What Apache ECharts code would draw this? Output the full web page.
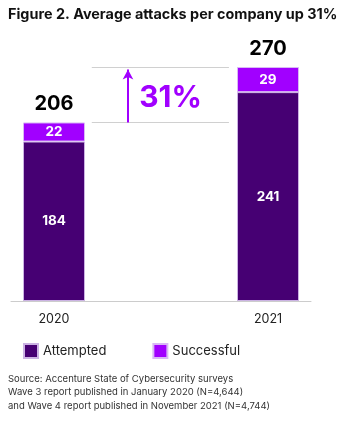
<!DOCTYPE html>
<html><head><meta charset="utf-8">
<script src="https://cdn.jsdelivr.net/npm/echarts@6/dist/echarts.min.js"></script>
<style>html,body{margin:0;padding:0;background:#fff}#c{width:362px;height:421px}</style>
</head><body><div id="c"></div>
<script>
const categories = ['2020', '2021'];
const attempted = [184, 241];
const successful = [22, 29];
const growthLabel = '31%';
const title = 'Figure 2. Average attacks per company up 31%';
const sourceLines = [
  'Source: Accenture State of Cybersecurity surveys',
  'Wave 3 report published in January 2020 (N=4,644)',
  'and Wave 4 report published in November 2021 (N=4,744)'
];

const totals = attempted.map((v, i) => v + successful[i]);
const FONT = 'Inter, "Noto Sans", sans-serif';
const C_ATT = '#460073', C_SUC = '#a100ff';
const lo = Math.min(...totals), hi = Math.max(...totals);

const chart = echarts.init(document.getElementById('c'), null, {renderer: 'canvas'});
chart.setOption({
  animation: false,
  textStyle: {fontFamily: FONT},
  title: [{
    text: title, left: 8, top: 8, padding: 0,
    textStyle: {fontFamily: FONT, fontSize: 14.4, fontWeight: 'bold', color: '#111'}
  }, {
    text: sourceLines.join('\n'), left: 8, top: 372, padding: 0,
    textStyle: {fontFamily: FONT, fontSize: 9.5, fontWeight: 'normal', color: '#333', lineHeight: 13.5}
  }],
  legend: {
    left: 23, top: 343, padding: 0, itemWidth: 14, itemHeight: 14, itemGap: 46,
    icon: 'rect',
    data: ['Attempted', 'Successful'],
    textStyle: {fontFamily: FONT, fontSize: 13, color: '#222'}
  },
  grid: [
    {left: 54, right: 94, top: 67, bottom: 120},
    {left: 11, right: 51, top: 67, bottom: 120}
  ],
  xAxis: [{
    type: 'category', gridIndex: 0, data: categories, boundaryGap: false,
    axisLine: {show: false}, axisTick: {show: false},
    axisLabel: {margin: 12, fontSize: 12.5, color: '#222', fontFamily: FONT}
  }, {
    type: 'value', gridIndex: 1, min: -0.2, max: 1.2,
    splitLine: {show: false}, axisTick: {show: false}, axisLabel: {show: false},
    axisLine: {show: true, lineStyle: {color: '#cccccc', width: 1}}
  }],
  yAxis: [
    {type: 'value', gridIndex: 0, min: 0, max: hi, show: false},
    {type: 'value', gridIndex: 1, min: 0, max: hi, show: false}
  ],
  series: [{
    name: 'Attempted', type: 'bar', stack: 'a', barWidth: 62, clip: false,
    itemStyle: {color: C_ATT, borderColor: '#cbb2e3', borderWidth: 1},
    label: {show: true, position: 'inside', color: '#fff', fontWeight: 'bold', fontSize: 13.5, fontFamily: FONT},
    data: attempted
  }, {
    name: 'Successful', type: 'bar', stack: 'a', barWidth: 62, clip: false,
    itemStyle: {color: C_SUC, borderColor: '#d9b8f5', borderWidth: 1},
    label: {show: true, position: 'inside', color: '#fff', fontWeight: 'bold', fontSize: 13.5, fontFamily: FONT},
    data: successful
  }, {
    name: 'Total', type: 'bar', stack: 'a', barWidth: 62, clip: false,
    itemStyle: {color: 'transparent'},
    label: {
      show: true, position: 'top', distance: 8,
      formatter: p => String(totals[p.dataIndex]),
      color: '#000', fontWeight: 'bold', fontSize: 20, fontFamily: FONT
    },
    data: categories.map(() => 0)
  }, {
    name: 'Growth', type: 'line', xAxisIndex: 1, yAxisIndex: 1, data: [],
    markLine: {
      silent: true, symbol: ['none', 'none'],
      lineStyle: {color: '#d0d0d0', width: 1, type: 'solid'},
      label: {show: false},
      data: [
        [{coord: [0.177, hi]}, {coord: [0.817, hi]}],
        [{coord: [0.177, lo]}, {coord: [0.817, lo]}]
      ]
    }
  }, {
    name: 'Arrow', type: 'line', xAxisIndex: 1, yAxisIndex: 1, data: [],
    markLine: {
      silent: true, symbol: ['none', 'arrow'], symbolSize: [8, 10],
      lineStyle: {color: C_SUC, width: 2, type: 'solid'},
      label: {show: false},
      data: [[{coord: [0.346, lo]}, {coord: [0.346, hi - 3]}]]
    },
    markPoint: {
      silent: true, symbol: 'circle', symbolSize: 0,
      label: {
        show: true, formatter: growthLabel, color: C_SUC,
        fontWeight: 'bold', fontSize: 30, fontFamily: FONT
      },
      data: [{coord: [0.545, (lo + hi) / 2 - 3.5]}]
    }
  }]
});
</script></body></html>
